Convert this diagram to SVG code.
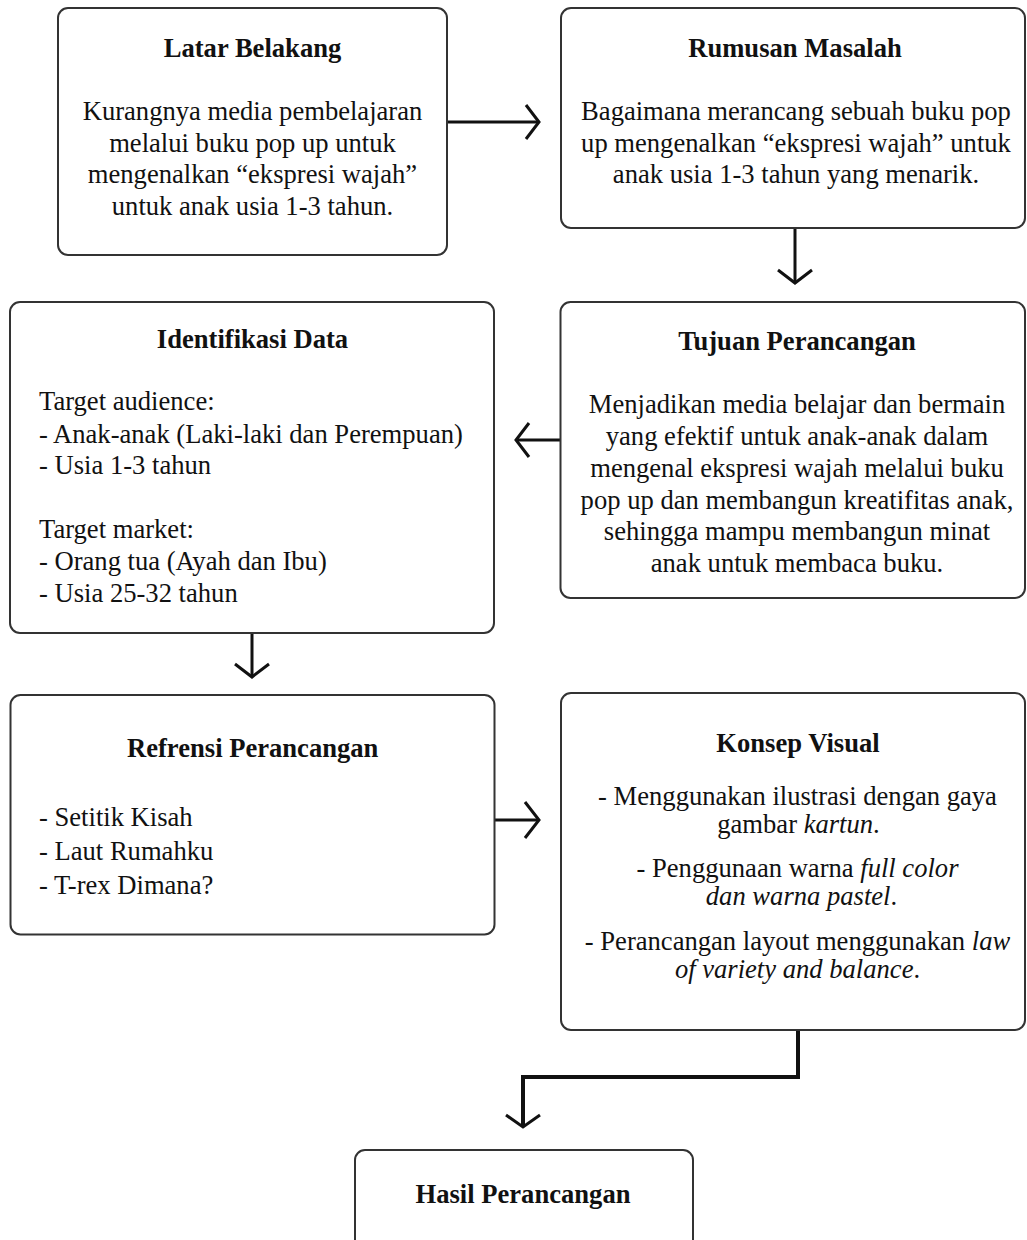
<svg xmlns="http://www.w3.org/2000/svg" width="1027" height="1240" viewBox="0 0 1027 1240">
<style>
.box{fill:#fff;stroke:#333;stroke-width:2}
.t{font-family:"Liberation Serif","Times New Roman",serif;font-size:26.6px;fill:#111}
.h{font-weight:bold;text-anchor:middle}
.c{text-anchor:middle}
.i{font-style:italic}
.ln{fill:none;stroke:#111;stroke-width:3}
.ah{fill:none;stroke:#111;stroke-width:3;stroke-linejoin:miter}
</style>
<rect width="1027" height="1240" fill="#fff"/>
<g id="connectors">
<line class="ln" x1="447" y1="122" x2="538" y2="122"/>
<polyline class="ah" points="526,105 539,122 526,139"/>
<line class="ln" x1="795" y1="228" x2="795" y2="282"/>
<polyline class="ah" points="778,270 795,283 812,270"/>
<line class="ln" x1="560" y1="440" x2="517" y2="440"/>
<polyline class="ah" points="529,423 516,440 529,457"/>
<line class="ln" x1="252" y1="633" x2="252" y2="676"/>
<polyline class="ah" points="235,664 252,677 269,664"/>
<line class="ln" x1="494" y1="820" x2="538" y2="820"/>
<polyline class="ah" points="525,802 539,820 525,838"/>
<polyline class="ln" style="stroke-width:4" points="798,1030 798,1077 523,1077 523,1126"/>
<polyline class="ah" points="506,1115 523,1127 540,1115"/>
</g>
<g id="latar">
<rect class="box" x="58" y="8" width="389" height="247" rx="10"/>
<text class="t h" x="252.5" y="57">Latar Belakang</text>
<text class="t c" x="252.5" y="120">Kurangnya media pembelajaran</text>
<text class="t c" x="252.5" y="152">melalui buku pop up untuk</text>
<text class="t c" x="252.5" y="183">mengenalkan “ekspresi wajah”</text>
<text class="t c" x="252.5" y="215">untuk anak usia 1-3 tahun.</text>
</g>
<g id="rumusan">
<rect class="box" x="561" y="8" width="464" height="220" rx="10"/>
<text class="t h" x="795" y="57">Rumusan Masalah</text>
<text class="t c" x="796" y="120">Bagaimana merancang sebuah buku pop</text>
<text class="t c" x="796" y="152">up mengenalkan “ekspresi wajah” untuk</text>
<text class="t c" x="796" y="183">anak usia 1-3 tahun yang menarik.</text>
</g>
<g id="identifikasi">
<rect class="box" x="10" y="302" width="484" height="331" rx="10"/>
<text class="t h" x="252.5" y="348">Identifikasi Data</text>
<text class="t" x="39" y="410">Target audience:</text>
<text class="t" x="39" y="443">- Anak-anak (Laki-laki dan Perempuan)</text>
<text class="t" x="39" y="474">- Usia 1-3 tahun</text>
<text class="t" x="39" y="538">Target market:</text>
<text class="t" x="39" y="570">- Orang tua (Ayah dan Ibu)</text>
<text class="t" x="39" y="602">- Usia 25-32 tahun</text>
</g>
<g id="tujuan">
<rect class="box" x="560.5" y="302" width="464.5" height="296" rx="10"/>
<text class="t h" x="797" y="350">Tujuan Perancangan</text>
<text class="t c" x="797" y="413">Menjadikan media belajar dan bermain</text>
<text class="t c" x="797" y="445">yang efektif untuk anak-anak dalam</text>
<text class="t c" x="797" y="476.5">mengenal ekspresi wajah melalui buku</text>
<text class="t c" x="797" y="508.5">pop up dan membangun kreatifitas anak,</text>
<text class="t c" x="797" y="540">sehingga mampu membangun minat</text>
<text class="t c" x="797" y="572">anak untuk membaca buku.</text>
</g>
<g id="refrensi">
<rect class="box" x="10.5" y="695" width="484" height="239.5" rx="10"/>
<text class="t h" x="252.7" y="757">Refrensi Perancangan</text>
<text class="t" x="39" y="826">- Setitik Kisah</text>
<text class="t" x="39" y="860">- Laut Rumahku</text>
<text class="t" x="39" y="894">- T-rex Dimana?</text>
</g>
<g id="konsep">
<rect class="box" x="561" y="693" width="464" height="337" rx="10"/>
<text class="t h" x="798" y="752">Konsep Visual</text>
<text class="t c" x="797.5" y="805">- Menggunakan ilustrasi dengan gaya</text>
<text class="t c" x="798.5" y="833">gambar <tspan class="i">kartun</tspan>.</text>
<text class="t c" x="797.5" y="877">- Penggunaan warna <tspan class="i">full color</tspan></text>
<text class="t c" x="801.5" y="905"><tspan class="i">dan warna pastel</tspan>.</text>
<text class="t c" x="797.5" y="950">- Perancangan layout menggunakan <tspan class="i">law</tspan></text>
<text class="t c" x="797.5" y="978"><tspan class="i">of variety and balance</tspan>.</text>
</g>
<g id="hasil">
<rect class="box" x="355" y="1150" width="338" height="120" rx="10"/>
<text class="t h" x="523" y="1203">Hasil Perancangan</text>
</g>
</svg>
